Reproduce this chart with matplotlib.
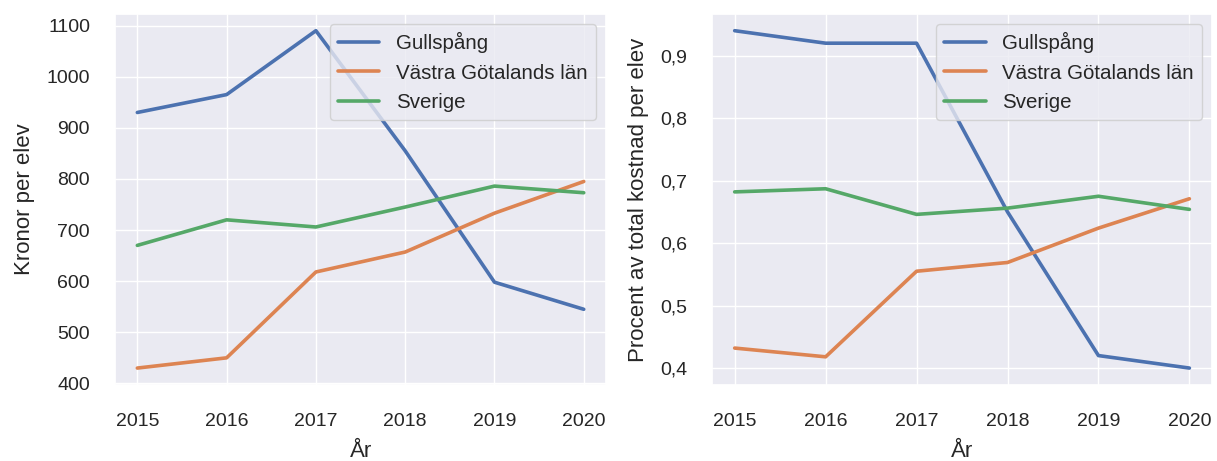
import matplotlib
matplotlib.use("Agg")
import matplotlib.pyplot as plt
import matplotlib.ticker as mticker
import seaborn as sns

years = [2015, 2016, 2017, 2018, 2019, 2020]
labels = ["Gullspång", "Västra Götalands län", "Sverige"]

kronor_gullspang = [930, 965, 1090, 855, 598, 545]
kronor_vg = [430, 450, 618, 657, 733, 795]
kronor_sverige = [670, 720, 706, 745, 786, 773]

procent_gullspang = [0.940, 0.920, 0.920, 0.650, 0.420, 0.400]
procent_vg = [0.432, 0.418, 0.555, 0.569, 0.624, 0.671]
procent_sverige = [0.682, 0.687, 0.646, 0.656, 0.675, 0.654]

sns.set_theme()
plt.rcParams['font.family'] = ['Liberation Sans', 'DejaVu Sans']

fig, (ax1, ax2) = plt.subplots(1, 2, figsize=(12.17, 4.61), dpi=100)
ax1.set_position([0.0945, 0.165, 0.4035, 0.805])
ax2.set_position([0.585, 0.165, 0.411, 0.805])

for ax, series, ylabel in [
    (ax1, [kronor_gullspang, kronor_vg, kronor_sverige], "Kronor per elev"),
    (ax2, [procent_gullspang, procent_vg, procent_sverige], "Procent av total kostnad per elev"),
]:
    for vals, lab in zip(series, labels):
        ax.plot(years, vals, linewidth=2.6, label=lab)
    ax.set_xlabel("År", fontsize=16, labelpad=8)
    ax.set_ylabel(ylabel, fontsize=16, labelpad=8)
    ax.tick_params(axis="x", labelsize=14, pad=14)
    ax.tick_params(axis="y", labelsize=14, pad=12)
    ax.legend(loc="upper right", fontsize=14.8)

ax2.yaxis.set_major_formatter(mticker.FuncFormatter(lambda v, p: f"{v:.1f}".replace(".", ",")))

fig.savefig("out.png", dpi=100)
